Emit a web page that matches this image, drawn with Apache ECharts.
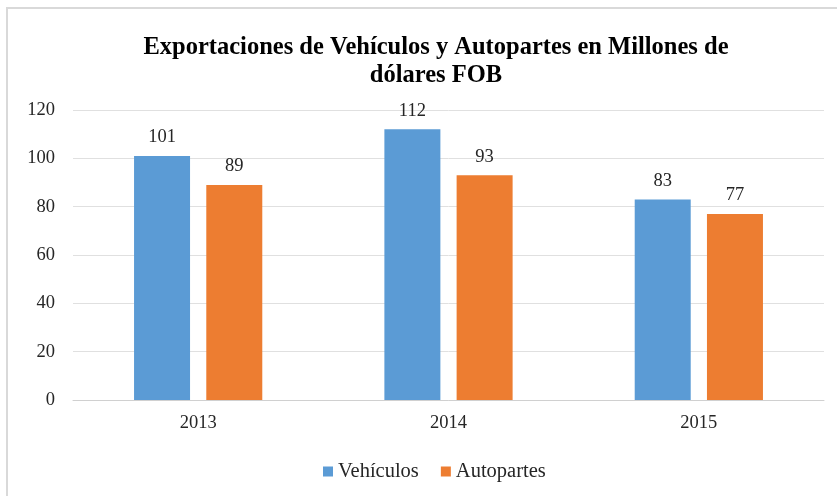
<!DOCTYPE html>
<html>
<head>
<meta charset="utf-8">
<script src="https://cdn.jsdelivr.net/npm/echarts@6/dist/echarts.min.js"></script>
<style>
  html, body { margin: 0; padding: 0; background: #fff; }
  #chart { width: 837px; height: 496px; }
</style>
</head>
<body>
<div id="chart"></div>
<script>
const years = ['2013', '2014', '2015'];
const vehiculos = [101, 112, 83];
const autopartes = [89, 93, 77];

const font = '"Liberation Serif", "Times New Roman", serif';
const textColor = '#262626';

const chart = echarts.init(document.getElementById('chart'), null, { renderer: 'canvas' });

function barSeries(name, data, color) {
  return {
    name,
    type: 'bar',
    data,
    barWidth: 56,
    barGap: '29%',
    itemStyle: { color },
    label: {
      show: true,
      position: 'top',
      distance: 9,
      fontFamily: font,
      fontSize: 18.5,
      color: textColor
    }
  };
}

chart.setOption({
  animation: false,
  backgroundColor: '#fff',
  title: {
    text: 'Exportaciones de Vehículos y Autopartes en Millones de\ndólares FOB',
    left: 431,
    top: 29,
    textAlign: 'center',
    textStyle: {
      fontFamily: font,
      fontWeight: 'bold',
      fontSize: 24.5,
      lineHeight: 28,
      color: '#000'
    }
  },
  legend: {
    data: ['Vehículos', 'Autopartes'],
    left: 318,
    top: 456,
    icon: 'rect',
    itemWidth: 10,
    itemHeight: 10,
    itemGap: 22,
    textStyle: { fontFamily: font, fontSize: 20.5, color: textColor }
  },
  grid: { left: 73, right: 13, top: 110, bottom: 96 },
  xAxis: {
    type: 'category',
    data: years,
    axisLine: { lineStyle: { color: '#d0d0d0' } },
    axisTick: { show: false },
    axisLabel: { fontFamily: font, fontSize: 18.5, color: textColor, margin: 14 }
  },
  yAxis: {
    type: 'value',
    min: 0,
    max: 120,
    interval: 20,
    axisLine: { show: false },
    axisTick: { show: false },
    splitLine: { lineStyle: { color: '#e0e0e0' } },
    axisLabel: { fontFamily: font, fontSize: 18.5, color: textColor, margin: 18 }
  },
  graphic: [{
    type: 'rect',
    shape: { x: 7, y: 8, width: 840, height: 500 },
    style: { fill: 'none', stroke: '#d9d9d9', lineWidth: 2 },
    silent: true
  }],
  series: [
    barSeries('Vehículos', vehiculos, '#5B9BD5'),
    barSeries('Autopartes', autopartes, '#ED7D31')
  ]
});
</script>
</body>
</html>
